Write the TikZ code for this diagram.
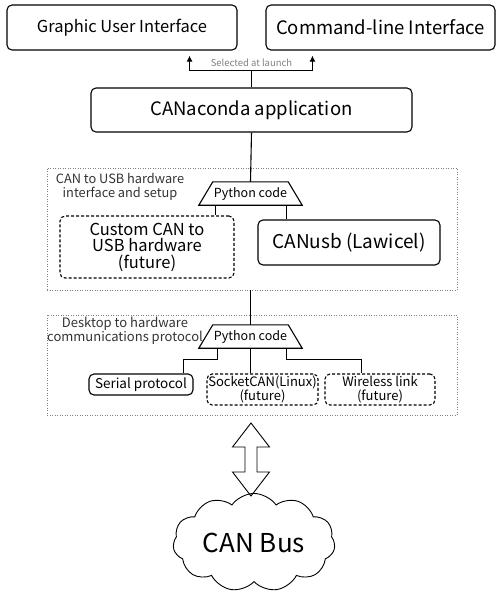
\documentclass[tikz,border=0pt]{standalone}
\usepackage{fontspec}
\setmainfont{Noto Sans CJK JP}
\usetikzlibrary{shapes,arrows.meta,positioning,calc}
\definecolor{framegray}{HTML}{808080}
\definecolor{labelgray}{HTML}{333333}
\tikzset{
  mainbox/.style={draw,rounded corners=5pt,line width=1.1pt,inner sep=0pt},
  futurebox/.style={draw,rounded corners=5pt,line width=1.1pt,inner sep=0pt,dash pattern=on 3pt off 2pt},
  layerbox/.style={draw=framegray,line width=0.9pt,dash pattern=on 1pt off 1.5pt,inner sep=0pt},
  pycode/.style={inner sep=0pt,minimum width=75pt,minimum height=23pt,font=\fontsize{12.5}{13}\selectfont},
  link/.style={line width=1.1pt},
}
\begin{document}
\begin{tikzpicture}[x=1pt,y=-1pt]
  \useasboundingbox (0,0) rectangle (500,600);

  % User interfaces
  \node[mainbox,minimum width=230pt,minimum height=45pt,font=\fontsize{16.5}{20}\selectfont] (gui) at (122,27.5) {Graphic User Interface};
  \node[mainbox,minimum width=229pt,minimum height=45pt,font=\fontsize{18.5}{20}\selectfont] (cli) at (380.5,27.5) {Command-line Interface};

  % Application
  \node[mainbox,minimum width=321pt,minimum height=44pt,font=\fontsize{18.5}{20}\selectfont] (app) at (251.5,110) {CANaconda application};
  \draw[link] (app.north) -- ++(0,-17) coordinate (split);
  \draw[link,-{Latex[length=6pt,width=6pt]},shorten >=5pt] (split) -| ([xshift=-48pt]gui.south east);
  \draw[link,-{Latex[length=6pt,width=6pt]},shorten >=5pt] (split) -| ([xshift=47pt]cli.south west);
  \node[color=framegray,font=\fontsize{9.5}{10}\selectfont,above=0pt] (launch) at (split) {Selected at launch};

  % CAN to USB hardware layer
  \node[layerbox,minimum width=410pt,minimum height=122pt] (hwlayer) at (252,229) {};
  \node[color=labelgray,align=center,font=\fontsize{12.8}{14}\selectfont] (hwlabel) at (120,187) {CAN to USB hardware\\interface and setup};
  \node[pycode] (py1) at (250.5,193.5) {Python code};
  \draw[link] (py1.north west) -- (py1.north east) -- ([xshift=14pt]py1.south east) -- ([xshift=-14pt]py1.south west) -- cycle;
  \node[futurebox,minimum width=174pt,minimum height=62pt,align=center,font=\fontsize{16.5}{16.5}\selectfont] (custom) at (147,247) {Custom CAN to\\USB hardware\\(future)};
  \node[mainbox,minimum width=182pt,minimum height=45pt,font=\fontsize{19}{20}\selectfont] (canusb) at (349,242.5) {CANusb (Lawicel)};
  \draw[link] (app.south) -- (py1.north);
  \draw[link] ([xshift=3pt]py1.south west) -- ([xshift=3pt]py1.south west |- custom.north);
  \draw[link] ([xshift=-2pt]py1.south east) -- ([xshift=-2pt]py1.south east |- canusb.north);

  % Desktop to hardware protocol layer
  \node[layerbox,minimum width=410pt,minimum height=100pt] (protolayer) at (252,365) {};
  \node[color=labelgray,align=center,font=\fontsize{13}{14}\selectfont] (protolabel) at (125,330.5) {Desktop to hardware\\communications protocol};
  \node[pycode] (py2) at (250.5,336.5) {Python code};
  \draw[link] (py2.north west) -- (py2.north east) -- ([xshift=14pt]py2.south east) -- ([xshift=-14pt]py2.south west) -- cycle;
  \node[mainbox,minimum width=104pt,minimum height=21pt,font=\fontsize{13.5}{14}\selectfont] (serial) at (141,384.5) {Serial protocol};
  \node[futurebox,minimum width=111pt,minimum height=31pt,align=center,font=\fontsize{13}{13.5}\selectfont] (socketcan) at (262.5,389.5) {SocketCAN(Linux)\\(future)};
  \node[futurebox,minimum width=110pt,minimum height=31pt,align=center,font=\fontsize{13}{13.5}\selectfont] (wireless) at (380,389.5) {Wireless link\\(future)};
  \draw[link] (hwlayer.south -| py2.north) -- (py2.north);
  \draw[link] ([xshift=5pt]py2.south west) -- ++(0,11) -| ([xshift=-10pt]serial.north east);
  \draw[link] (py2.south) -- (py2.south |- socketcan.north);
  \draw[link] ([xshift=-2pt]py2.south east) -- ++(0,11) -| ([xshift=37pt]wireless.north west);

  % Link to the bus
  \draw[line width=0.9pt] (251,423) -- (269.5,447) -- (257,447) -- (257,472) -- (269.5,472) -- (251,496)
    -- (232.5,472) -- (245,472) -- (245,447) -- (232.5,447) -- cycle;
  \node[cloud,draw,line width=0.9pt,cloud puffs=11,cloud puff arc=110,aspect=1.8,minimum width=162pt,minimum height=89pt,inner sep=0pt,font=\fontsize{26}{28}\selectfont] (bus) at (254,542.5) {CAN Bus};
\end{tikzpicture}
\end{document}
